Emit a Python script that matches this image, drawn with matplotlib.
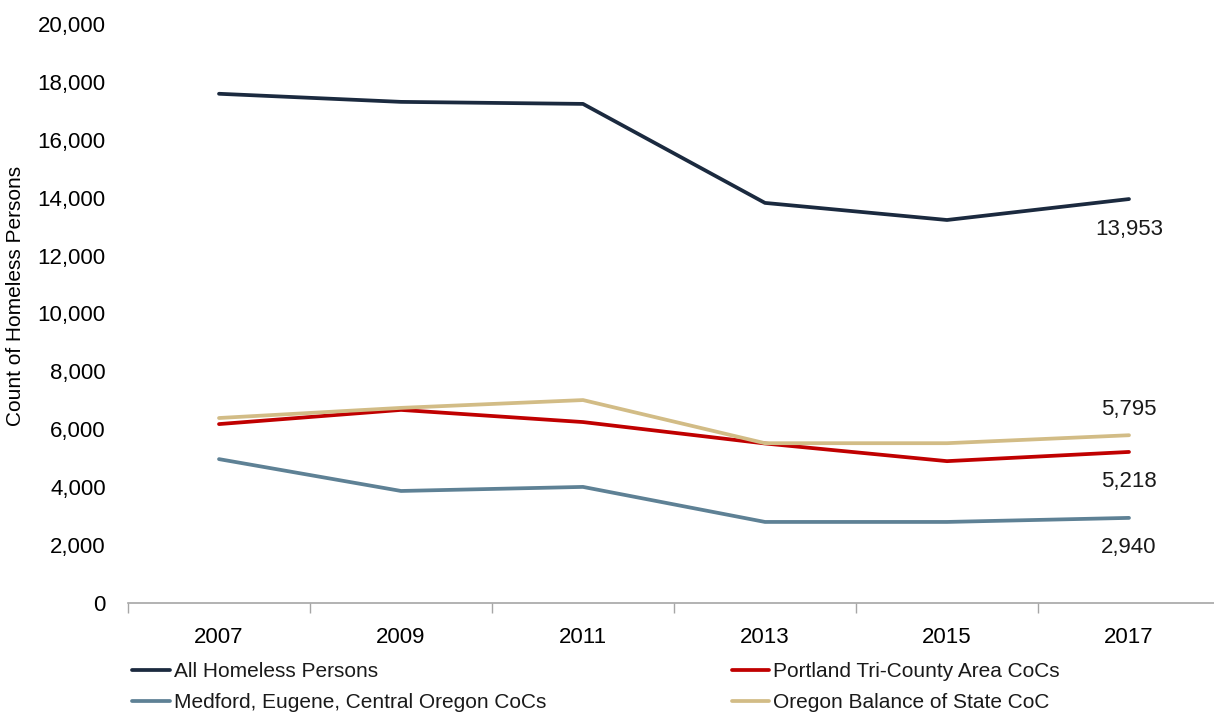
import matplotlib.pyplot as plt
from matplotlib.ticker import FuncFormatter

years = ["2007", "2009", "2011", "2013", "2015", "2017"]
all_homeless = [17590, 17310, 17240, 13820, 13230, 13953]
portland = [6180, 6670, 6250, 5510, 4900, 5218]
medford = [4970, 3870, 4010, 2800, 2800, 2940]
balance = [6390, 6740, 7010, 5520, 5520, 5795]

navy = "#1b2a3f"
red = "#c00000"
slate = "#5e8195"
tan = "#d2bc86"

plt.rcParams["font.family"] = ["Liberation Sans", "DejaVu Sans"]
plt.rcParams["text.color"] = "#1a1a1a"

fig = plt.figure(figsize=(12.14, 7.13), dpi=100)
ax = fig.add_axes([128 / 1214, 1 - 603 / 713, 1092 / 1214, (603 - 24) / 713])

x = range(len(years))
lw = 2.7
l1, = ax.plot(x, all_homeless, color=navy, lw=lw, label="All Homeless Persons", solid_capstyle="round")
l2, = ax.plot(x, portland, color=red, lw=lw, label="Portland Tri-County Area CoCs", solid_capstyle="round")
l3, = ax.plot(x, medford, color=slate, lw=lw, label="Medford, Eugene, Central Oregon CoCs", solid_capstyle="round")
l4, = ax.plot(x, balance, color=tan, lw=lw, label="Oregon Balance of State CoC", solid_capstyle="round")

# end labels
last = len(years) - 1
ax.annotate(f"{all_homeless[-1]:,}", (last, all_homeless[-1]), xytext=(0, -14), textcoords="offset points",
            ha="center", va="top", fontsize=16)
ax.annotate(f"{balance[-1]:,}", (last, balance[-1]), xytext=(0, 11), textcoords="offset points",
            ha="center", va="bottom", fontsize=16)
ax.annotate(f"{portland[-1]:,}", (last, portland[-1]), xytext=(0, -14), textcoords="offset points",
            ha="center", va="top", fontsize=16)
ax.annotate(f"{medford[-1]:,}", (last, medford[-1]), xytext=(0, -14), textcoords="offset points",
            ha="center", va="top", fontsize=16)

ax.set_xlim(-0.5, len(years) - 0.5)
ax.set_ylim(0, 20000)
ax.set_yticks(range(0, 20001, 2000))
ax.yaxis.set_major_formatter(FuncFormatter(lambda v, p: f"{int(v):,}"))
ax.set_xticks([i + 0.5 for i in range(-1, len(years))], minor=False)
ax.set_xticklabels([])
ax.set_xticks(list(x), minor=True)
ax.set_xticklabels(years, minor=True, fontsize=16)
ax.tick_params(axis="x", which="major", length=7, color="#a6a6a6", width=1)
ax.tick_params(axis="x", which="minor", length=0, pad=17)
ax.tick_params(axis="y", length=0, labelsize=16, pad=16)

for s in ["top", "right", "left"]:
    ax.spines[s].set_visible(False)
ax.spines["bottom"].set_color("#a6a6a6")
ax.spines["bottom"].set_linewidth(1.2)

ax.set_ylabel("Count of Homeless Persons", fontsize=15)
ax.yaxis.set_label_coords(-0.094, 0.53)

fig.legend(handles=[l1, l3, l2, l4], loc="upper left", bbox_to_anchor=(124 / 1214, 1 - 654 / 713),
           ncol=2, frameon=False, handlelength=1.8, handletextpad=0.2,
           columnspacing=8.9, labelspacing=0.55, borderaxespad=0,
           prop={"family": "Liberation Sans", "size": 15})

fig.savefig("out.png", dpi=100)
